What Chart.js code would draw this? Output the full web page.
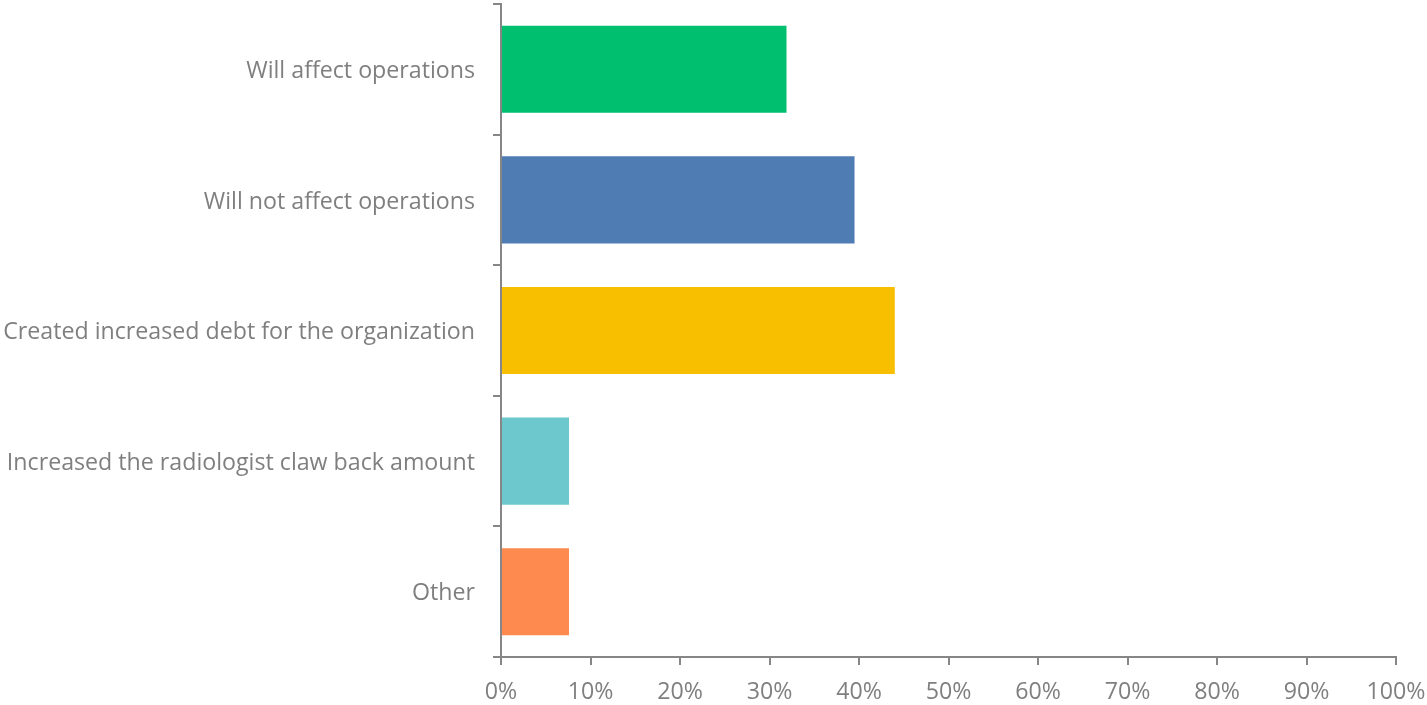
<!DOCTYPE html>
<html>
<head>
<meta charset="utf-8">
<script src="https://cdn.jsdelivr.net/npm/chart.js@4"></script>
<style>
	html, body { margin: 0; padding: 0; background: #fff; }
	#wrap { width: 1427px; height: 705px; }
</style>
</head>
<body>
<div id="wrap"><canvas id="bar-chart" width="1427" height="705"></canvas></div>
<script>
const categories = [
	'Will affect operations',
	'Will not affect operations',
	'Created increased debt for the organization',
	'Increased the radiologist claw back amount',
	'Other',
];
const percentages = [31.9, 39.5, 44.0, 7.6, 7.6];
const barColors = ['#00BF6F', '#4F7CB3', '#F8BE00', '#6CC8CC', '#FF8A50'];
const xTicks = [0, 10, 20, 30, 40, 50, 60, 70, 80, 90, 100];

const grey = '#868686';
const labelFont = { family: '"Open Sans", Lato, sans-serif', size: 23.2 };

// keep the plot area fixed: no automatic padding for edge labels
const noEdgePadding = (axis) => {
	axis.paddingTop = 0;
	axis.paddingBottom = 0;
	axis.paddingLeft = 0;
	axis.paddingRight = 0;
};

const ctx = document.getElementById('bar-chart').getContext('2d');
new Chart(ctx, {
	type: 'bar',
	data: {
		labels: categories,
		datasets: [
			{
				label: 'share',
				data: percentages,
				backgroundColor: barColors,
				borderWidth: 0,
				barPercentage: 0.667,
				categoryPercentage: 1,
			},
		],
	},
	options: {
		indexAxis: 'y',
		responsive: false,
		animation: false,
		layout: { padding: { top: 4, right: 31, left: 0, bottom: 0 } },
		plugins: { legend: { display: false }, tooltip: { enabled: false } },
		scales: {
			x: {
				min: 0,
				max: 100,
				afterBuildTicks: (axis) => {
					axis.ticks = xTicks.map((v) => ({ value: v }));
				},
				border: { color: grey, width: 2 },
				grid: { drawOnChartArea: false, color: grey, lineWidth: 2, tickLength: 8 },
				ticks: {
					color: '#7f7f7f',
					font: labelFont,
					padding: 13,
					maxRotation: 0,
					callback: (v) => v + '%',
				},
				afterFit: (axis) => {
					noEdgePadding(axis);
					axis.height = 48;
				},
			},
			y: {
				border: { color: grey, width: 2 },
				grid: { drawOnChartArea: false, offset: true, color: grey, lineWidth: 2, tickLength: 8 },
				ticks: { color: '#7f7f7f', font: labelFont, padding: 18, labelOffset: 2 },
				afterFit: (axis) => {
					noEdgePadding(axis);
					axis.width = 501;
				},
			},
		},
	},
});
</script>
</body>
</html>
